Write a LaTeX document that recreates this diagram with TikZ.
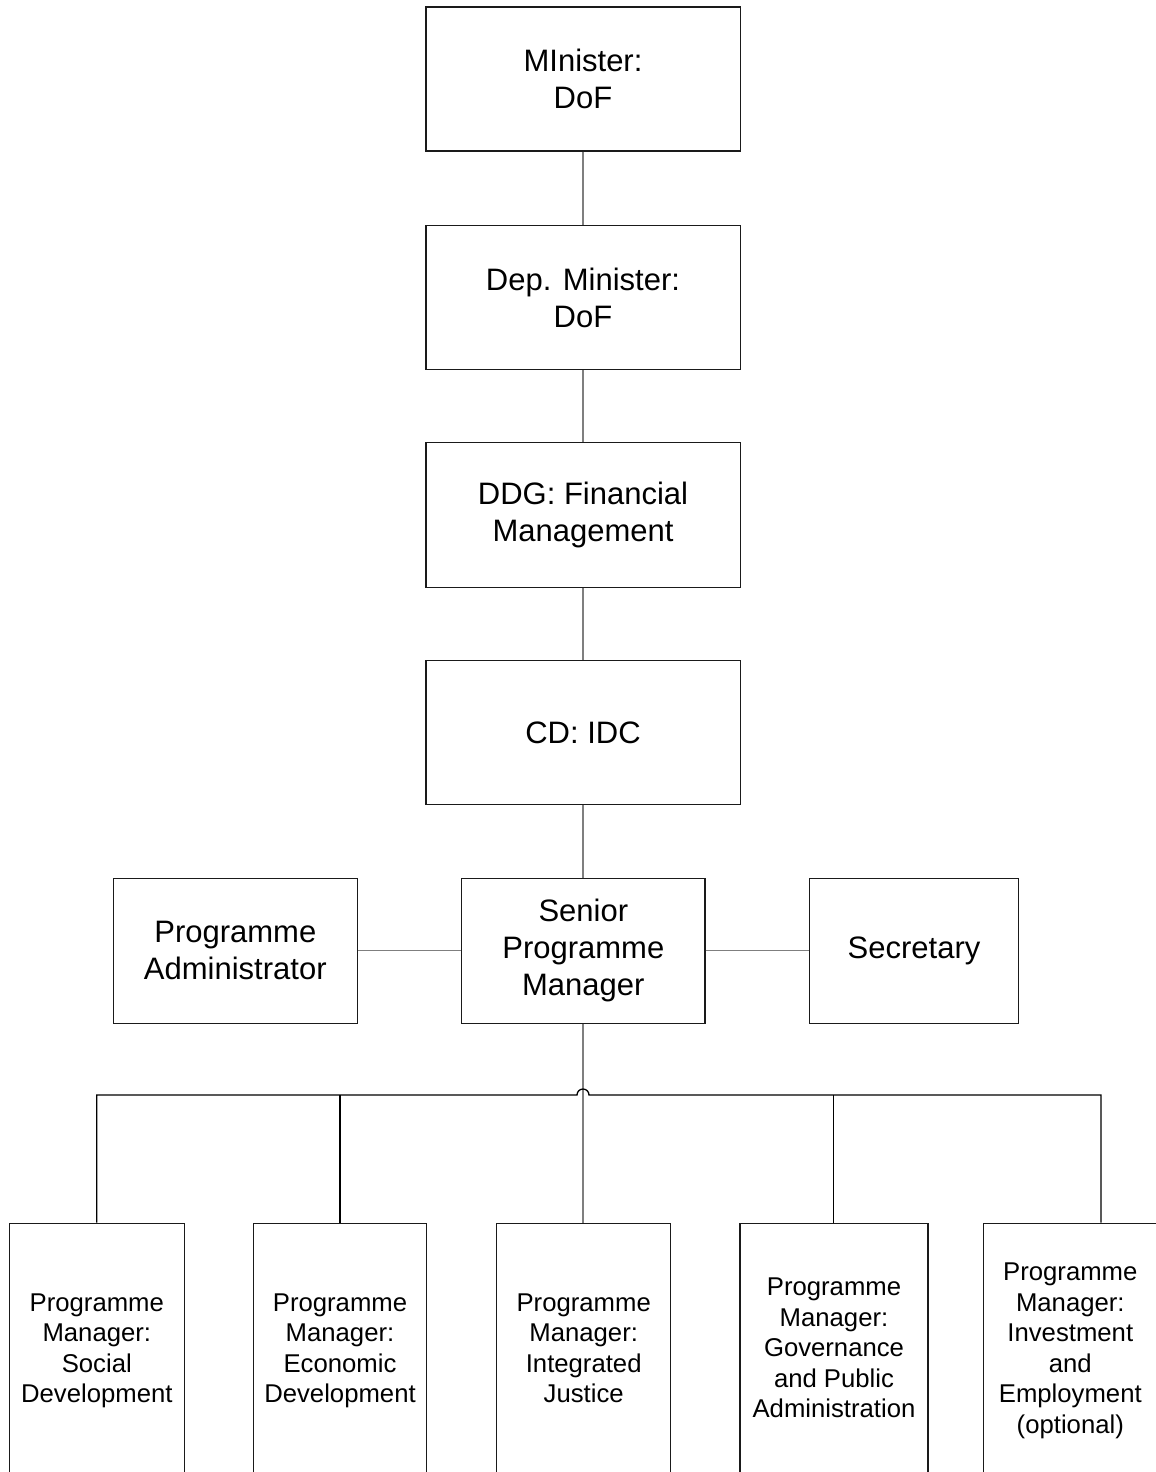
\documentclass[tikz,border=0pt]{standalone}
\usepackage{fontspec}
\setmainfont{Liberation Sans}
\usetikzlibrary{calc}
\definecolor{boxline}{HTML}{1A1A1A}
\definecolor{connline}{HTML}{7F7F7F}
\tikzset{
  bigbox/.style={draw=boxline, line width=1.3pt, inner sep=0pt, align=center,
    font=\fontsize{31}{37}\selectfont, text=black},
  smallbox/.style={draw=boxline, line width=1.3pt, inner sep=0pt, align=center,
    font=\fontsize{25.7}{30.5}\selectfont, text=black,
    minimum height=258.6pt},
  conn/.style={draw=connline, line width=1.3pt},
  bus/.style={draw=black, line width=1.3pt}
}
\begin{document}
\begin{tikzpicture}[x=1pt,y=-1pt]
\useasboundingbox (0,0) rectangle (1156,1472);
\clip (0,0) rectangle (1156,1471.3);
% top chain
\node[bigbox, minimum width=314.3pt, minimum height=144pt] (min) at (583,79) {MInister:\\DoF};
\node[bigbox, minimum width=314.3pt, minimum height=144.5pt] (dep) at (583,297.5) {Dep. Minister:\\DoF};
\node[bigbox, minimum width=314.3pt, minimum height=144.5pt] (ddg) at (583,515) {DDG: Financial\\Management};
\node[bigbox, minimum width=314.3pt, minimum height=144.5pt] (cd) at (583,732.5) {CD: IDC};
% middle row
\node[bigbox, minimum width=243.3pt, minimum height=145pt] (spm) at (583.3,950.8) {Senior\\Programme\\Manager};
\node[bigbox, minimum width=244pt, minimum height=145pt] (pa) at (235.3,950.8) {Programme\\Administrator};
\node[bigbox, minimum width=209.4pt, minimum height=145pt] (sec) at (914,950.8) {Secretary};
% bottom row (bottom edges fall outside the picture)
\node[smallbox, minimum width=175pt] (b1) at (96.8,1352.6) {Programme\\Manager:\\Social\\Development\strut};
\node[smallbox, minimum width=173.4pt] (b2) at (340,1352.6) {Programme\\Manager:\\Economic\\Development\strut};
\node[smallbox, minimum width=174pt] (b3) at (583.7,1352.6) {Programme\\Manager:\\Integrated\\Justice\strut};
\node[smallbox, minimum width=188pt] (b4) at (834,1352.6) {Programme\\Manager:\\Governance\\and Public\\Administration\strut};
\node[smallbox, minimum width=174pt] (b5) at (1070.3,1352.6) {Programme\\Manager:\\Investment\\and\\Employment\\(optional)\strut};
% connectors of the chain
\draw[conn] (min.south) -- (dep.north);
\draw[conn] (dep.south) -- (ddg.north);
\draw[conn] (ddg.south) -- (cd.north);
\draw[conn] (cd.south) -- (cd.south |- spm.north);
\draw[conn] (pa.east) -- (spm.west);
\draw[conn] (spm.east) -- (sec.west);
\coordinate (hop) at (583,1095);
\coordinate (jr) at (1101,1095);
\draw[conn] (hop |- spm.south) -- (hop |- b3.north);
% bus with hop
\draw[bus] (b1.north) -- (b1.north |- hop) -- ($(hop)+(-6pt,0pt)$)
  arc[start angle=180, end angle=0, radius=6pt] -- (jr) -- (jr |- b5.north);
\draw[bus] (b2.north |- hop) -- (b2.north);
\draw[bus] (833.3,1095) -- (833.3,1223.3);
\end{tikzpicture}
\end{document}
